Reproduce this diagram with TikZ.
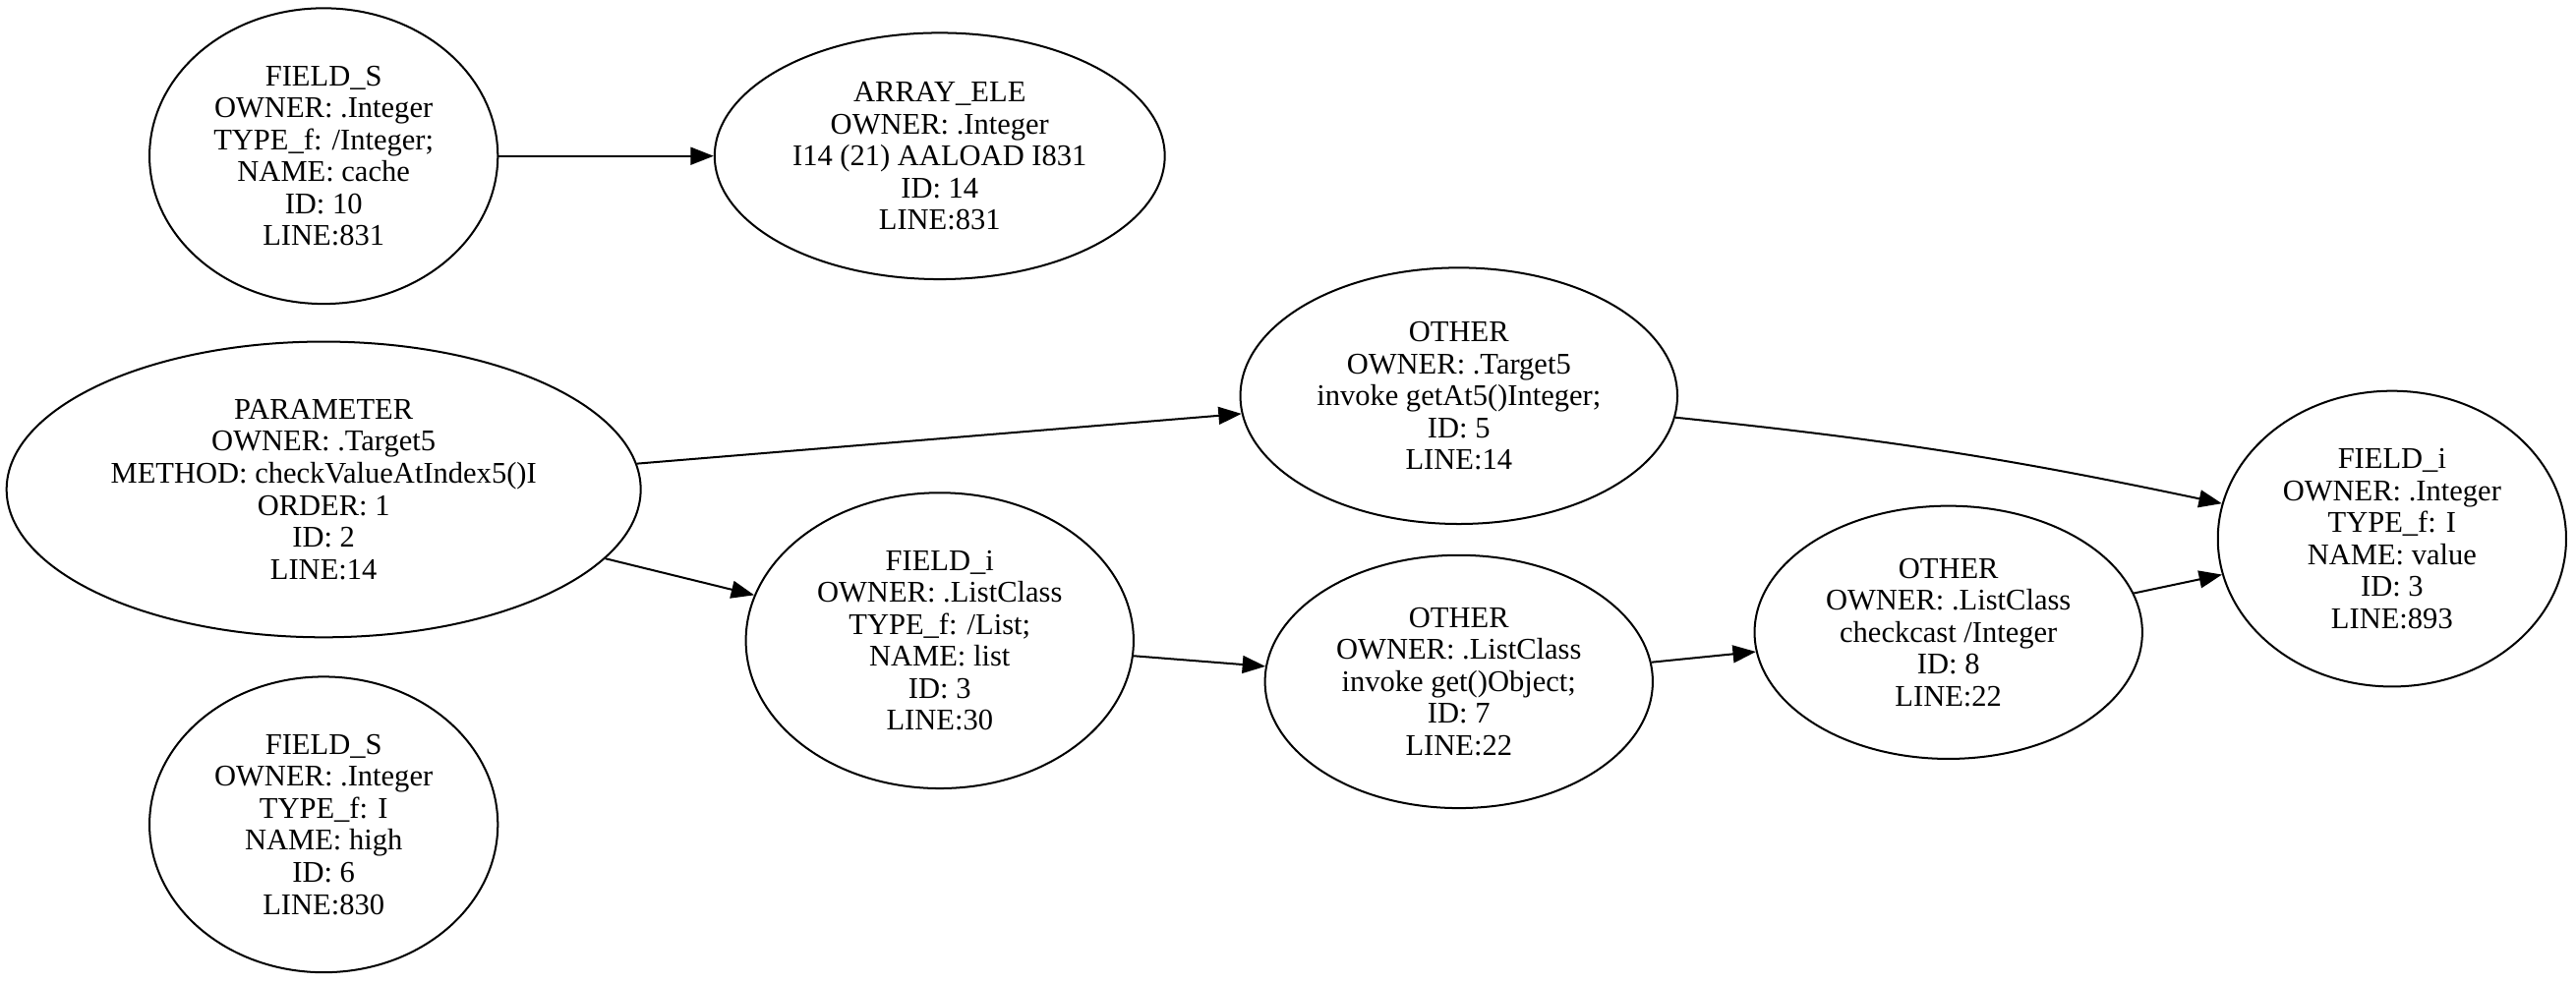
\documentclass[tikz,border=0pt]{standalone}
\usepackage{fontspec}
\setmainfont{Liberation Serif}
\usetikzlibrary{shapes.geometric,arrows.meta,positioning}
\tikzstyle{vertex} = [draw,shape=ellipse,line width=0.9pt,inner sep=0pt,align=center,font=\fontsize{13.7}{14.6}\selectfont]
\tikzstyle{link} = [line width=0.9pt,-{Triangle[length=10.5pt,width=8pt]}]

\begin{document}
\begin{tikzpicture}[x=0.75pt,y=-0.75pt]
			\useasboundingbox (0,0) rectangle (1568,598);
			
			\node[vertex,minimum width=159pt,minimum height=135pt] (f10) at (197,95) {FIELD\_S\\OWNER: .Integer\\TYPE\_f: /Integer;\\NAME: cache\\ID: 10\\LINE:831};
			\node[vertex,minimum width=205.5pt,minimum height=112.5pt] (a14) at (572,95) {ARRAY\_ELE\\OWNER: .Integer\\I14 (21) AALOAD I831\\ID: 14\\LINE:831};
			\node[vertex,minimum width=289.5pt,minimum height=135pt] (p2) at (197,298) {PARAMETER\\OWNER: .Target5\\METHOD: checkValueAtIndex5()I\\ORDER: 1\\ID: 2\\LINE:14};
			\node[vertex,minimum width=159pt,minimum height=135pt] (f6) at (197,502) {FIELD\_S\\OWNER: .Integer\\TYPE\_f: I\\NAME: high\\ID: 6\\LINE:830};
			\node[vertex,minimum width=199.5pt,minimum height=117pt] (o5) at (888,241) {OTHER\\OWNER: .Target5\\invoke getAt5()Integer;\\ID: 5\\LINE:14};
			\node[vertex,minimum width=177pt,minimum height=135pt] (f3l) at (572,390) {FIELD\_i\\OWNER: .ListClass\\TYPE\_f: /List;\\NAME: list\\ID: 3\\LINE:30};
			\node[vertex,minimum width=177pt,minimum height=115.5pt] (o7) at (888,415) {OTHER\\OWNER: .ListClass\\invoke get()Object;\\ID: 7\\LINE:22};
			\node[vertex,minimum width=177pt,minimum height=115.5pt] (o8) at (1186,385) {OTHER\\OWNER: .ListClass\\checkcast /Integer\\ID: 8\\LINE:22};
			\node[vertex,minimum width=159pt,minimum height=135pt] (f3) at (1456,328) {FIELD\_i\\OWNER: .Integer\\TYPE\_f: I\\NAME: value\\ID: 3\\LINE:893};
			
			\draw[link] (f10) -- (a14);
			\draw[link] (p2) -- (o5);
			\draw[link] (p2) -- (f3l);
			\draw[link] (f3l) -- (o7);
			\draw[link] (o7) -- (o8);
			\draw[link] (o8) -- (f3);
			\draw[link] (o5) to[bend left=3] (f3);
			
			\end{tikzpicture}
\end{document}
